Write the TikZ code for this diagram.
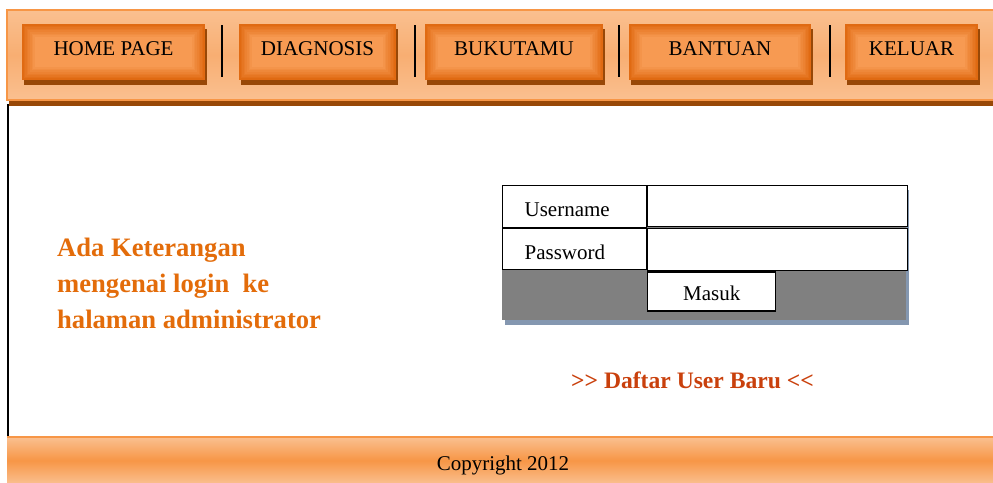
\documentclass[tikz,border=0pt]{standalone}
\usepackage{fontspec}
\setmainfont{Liberation Serif}
\usetikzlibrary{shadows}

\definecolor{btnedge}{HTML}{E06A12}
\definecolor{btncenter}{HTML}{F79A52}
\definecolor{btnshadow}{HTML}{984807}
\definecolor{barlight}{HTML}{FAC090}
\definecolor{barmid}{HTML}{F8AE72}
\definecolor{barline}{HTML}{F79646}
\definecolor{footmid}{HTML}{F79646}
\definecolor{formgray}{HTML}{808080}
\definecolor{formshadow}{HTML}{8497B0}
\definecolor{notetext}{HTML}{E36C0A}
\definecolor{linktext}{HTML}{C9400C}

\begin{document}
\begin{tikzpicture}[
		x=1pt, y=-1pt,
		menu/.style={fill=btnedge, minimum height=56pt, inner sep=0pt,
			text height=14pt, text depth=8pt,
			font=\fontsize{21}{25}\selectfont,
			drop shadow={shadow xshift=2pt, shadow yshift=-5pt, fill=btnshadow, opacity=1},
			path picture={
				\foreach \k in {1,...,8}{
					\pgfmathsetmacro{\p}{\k*12.5}
					\fill[btncenter!\p!btnedge]
						([shift={(1.6*\k pt,-1.6*\k pt)}]path picture bounding box.north west) rectangle
						([shift={(-1.6*\k pt,1.6*\k pt)}]path picture bounding box.south east);
				}
			}},
		sep/.style={line width=1.5pt},
		cell/.style={draw, line width=1.2pt, fill=white, minimum width=144pt, inner xsep=22pt,
			inner ysep=0pt, text width=100pt, text height=20pt, text depth=0pt, align=left,
			font=\fontsize{21}{25}\selectfont},
		field/.style={draw, line width=1.2pt, fill=white, minimum width=260pt},
		button/.style={draw, line width=1.2pt, fill=white, minimum width=128pt, minimum height=39pt,
			inner ysep=0pt, text height=18pt, text depth=0pt, font=\fontsize{21}{25}\selectfont},
	]
	\useasboundingbox (0,0) rectangle (993,482);

	% header bar
	\fill[btnshadow] (9,99) rectangle (996,106);
	\shade[top color=barlight, bottom color=barlight, middle color=barmid] (7,10) rectangle (996,100);
	\draw[barline, line width=2pt] (996,10) -- (7,10) -- (7,100) -- (996,100);

	% menu
	\node[menu, minimum width=183pt] (home) at (113.5,52) {HOME PAGE};
	\node[menu, minimum width=157pt] (diag) at (317.5,52) {DIAGNOSIS};
	\node[menu, minimum width=178pt] (tamu) at (514,52) {BUKUTAMU};
	\node[menu, minimum width=182pt] (help) at (720,52) {BANTUAN};
	\node[menu, minimum width=133pt] (out) at (911.5,52) {KELUAR};
	\foreach \x in {222,415,619,830}
		\draw[sep] (\x,25) -- (\x,77);

	% left border
	\draw[line width=2pt] (8,104) -- (8,440);

	% info text
	\node[anchor=west, align=left, text=notetext, inner sep=0pt,
		font=\fontsize{26.6}{36}\selectfont\bfseries] (info) at (57,283)
		{Ada Keterangan\\mengenai login~ ke\\halaman administrator};

	% login form
	\node[fill=formgray, minimum width=404pt, minimum height=135pt, inner sep=0pt,
		drop shadow={shadow xshift=3pt, shadow yshift=-5pt, fill=formshadow, opacity=1}]
		(form) at (704,252.5) {};
	\node[cell, minimum height=42pt, anchor=north west] (user) at (502,185) {Username};
	\node[field, minimum height=41pt, anchor=north west] (userbox) at (user.north east) {};
	\node[cell, minimum height=41pt, anchor=north west] (pass) at (user.south west) {Password};
	\node[field, minimum height=42pt, anchor=north west] (passbox) at (pass.north east) {};
	\node[button, anchor=north west] (masuk) at (passbox.south west) {Masuk};

	\node[text=linktext, font=\fontsize{23.6}{27}\selectfont\bfseries] (daftar) at (692.5,380)
		{>{}> Daftar User Baru <{}<};

	% footer
	\shade[top color=barlight, bottom color=barlight, middle color=footmid] (7,437) rectangle (996,484);
	\draw[barline, line width=1.5pt] (7,437) -- (996,437);
	\node[font=\fontsize{21}{25}\selectfont] (copy) at (503,465) {Copyright 2012};
\end{tikzpicture}
\end{document}
